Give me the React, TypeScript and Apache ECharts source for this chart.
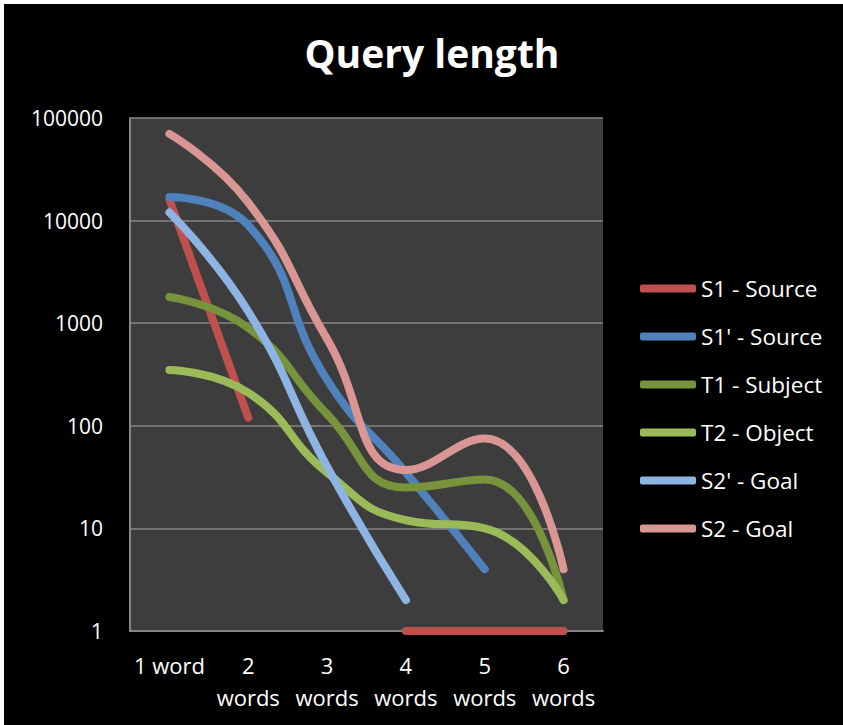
import React, { useEffect, useRef } from "react";
import * as echarts from "echarts";

const categories = ["1 word", "2\nwords", "3\nwords", "4\nwords", "5\nwords", "6\nwords"];
const seriesNames = ["S1 - Source", "S1' - Source", "T1 - Subject", "T2 - Object", "S2' - Goal", "S2 - Goal"];
const s1Source = [16000, 120, null, 1, 1, 1];
const s1pSource = [17000, 9000, 280, 35, 4, null];
const t1Subject = [1800, 900, 130, 25, 30, 2];
const t2Object = [350, 210, 35, 12, 10, 2];
const s2pGoal = [12000, 1300, 40, 2, null, null];
const s2Goal = [70000, 15000, 700, 37, 75, 4];
const colors = ["#C0504D", "#4F81BD", "#77933C", "#9BBB59", "#8EB4E3", "#D99694"];

const FONT = "'Open Sans', Lato, sans-serif";

export default function App() {
  const ref = useRef<HTMLDivElement>(null);
  useEffect(() => {
    if (!ref.current) return;
    const chart = echarts.init(ref.current, null, { renderer: "svg" });
    const data = [s1Source, s1pSource, t1Subject, t2Object, s2pGoal, s2Goal];
    chart.setOption({
      animation: false,
      backgroundColor: "#000000",
      color: colors,
      title: {
        text: "Query length",
        left: 423,
        top: 24,
        textAlign: "center",
        textStyle: { color: "#ffffff", fontSize: 39, fontWeight: "bold", fontFamily: FONT },
      },
      legend: {
        orient: "vertical",
        left: 631,
        top: 268,
        icon: "roundRect",
        itemWidth: 56,
        itemHeight: 8,
        itemGap: 25,
        textStyle: { color: "#ffffff", fontSize: 22.5, lineHeight: 22, fontFamily: FONT },
        data: seriesNames,
      },
      grid: {
        left: 126,
        top: 114,
        right: 240,
        bottom: 94,
        show: true,
        backgroundColor: "#3d3d3d",
        borderWidth: 0,
        containLabel: false,
      },
      xAxis: {
        type: "category",
        data: categories,
        boundaryGap: true,
        axisLine: { show: true, lineStyle: { color: "#868686", width: 2 } },
        axisTick: { show: false },
        axisLabel: {
          color: "#ffffff",
          fontSize: 22,
          lineHeight: 32,
          margin: 18,
          fontFamily: FONT,
          interval: 0,
        },
        splitLine: { show: false },
      },
      yAxis: {
        type: "log",
        logBase: 10,
        min: 1,
        max: 100000,
        axisLine: { show: true, lineStyle: { color: "#868686", width: 2 } },
        axisTick: { show: false },
        axisLabel: {
          color: "#ffffff",
          fontSize: 21,
          margin: 27,
          fontFamily: FONT,
          formatter: (v: number) => String(Math.round(v)),
        },
        splitLine: { show: true, lineStyle: { color: "#868686", width: 1.5 } },
      },
      series: data.map((d, i) => ({
        name: seriesNames[i],
        type: "line",
        data: d,
        smooth: 0.5,
        showSymbol: false,
        symbol: "none",
        clip: false,
        connectNulls: false,
        lineStyle: { width: 8, color: colors[i], cap: "round", join: "round" },
        itemStyle: { color: colors[i] },
      })),
    });
    return () => chart.dispose();
  }, []);
  return (
    <div
      ref={ref}
      style={{ position: "absolute", left: 4, top: 4, width: 839, height: 721 }}
    />
  );
}
